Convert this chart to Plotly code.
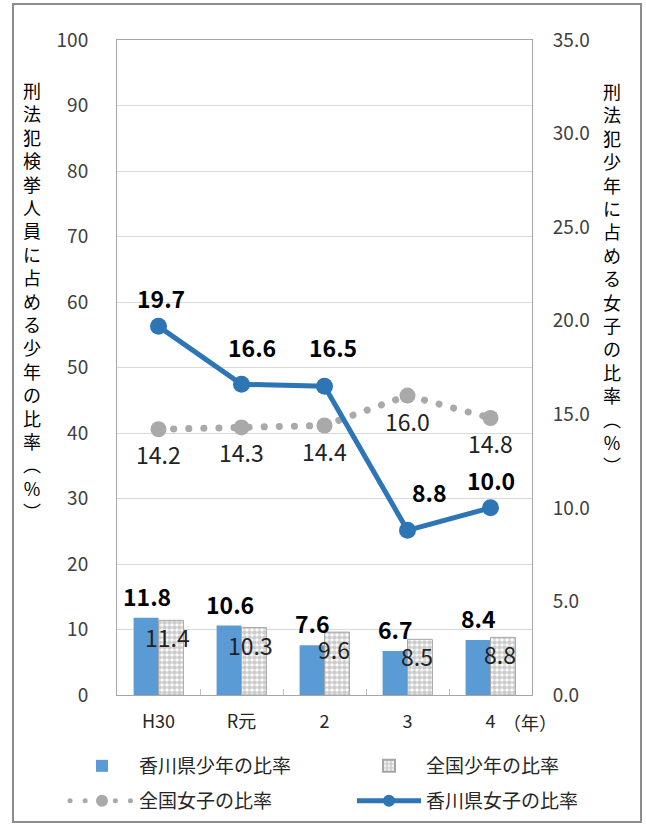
import plotly.graph_objects as go

# ---- data ----
categories = ["H30", "R元", "2", "3", "4"]
kagawa_juvenile = [11.8, 10.6, 7.6, 6.7, 8.4]      # 香川県少年の比率 (left axis)
national_juvenile = [11.4, 10.3, 9.6, 8.5, 8.8]    # 全国少年の比率 (left axis)
national_female = [14.2, 14.3, 14.4, 16.0, 14.8]   # 全国女子の比率 (right axis)
kagawa_female = [19.7, 16.6, 16.5, 8.8, 10.0]      # 香川県女子の比率 (right axis)
left_ticks = [0, 10, 20, 30, 40, 50, 60, 70, 80, 90, 100]
right_ticks = [0, 5, 10, 15, 20, 25, 30, 35]

names = ["香川県少年の比率", "全国少年の比率", "全国女子の比率", "香川県女子の比率"]
left_title = "刑法犯検挙人員に占める少年の比率"
right_title = "刑法犯少年に占める女子の比率"

# label offsets (px) for the 香川県女子 labels (style only)
kf_dx = [2, 10, 8, 22, 0]
kf_dy = [28, 37, 39, 38, 28]

FONT = "Noto Sans CJK JP"
BLUE_BAR = "#5B9BD5"
BLUE_LINE = "#2E75B6"
GRAY = "#A9A9A9"

FW, FH = 646, 825
L, R, T, B = 117, 532, 40, 695
W = R - L
H = B - T


def px(x):
    return (x - L) / W


def py(y):
    return (B - y) / H


fig = go.Figure()
fig.add_bar(x=categories, y=kagawa_juvenile, name=names[0], showlegend=True,
            marker=dict(color=BLUE_BAR, line=dict(width=0)), legend="legend")
fig.add_bar(x=categories, y=national_juvenile, name=names[1], showlegend=True,
            marker=dict(color="white", line=dict(color="#A6A6A6", width=1),
                        pattern=dict(shape=".", fgcolor="#9A9A9A", bgcolor="white",
                                     size=5, solidity=0.7)),
            legend="legend2")
fig.add_scatter(x=categories, y=national_female, yaxis="y2", name=names[2],
                mode="lines+markers", showlegend=True,
                line=dict(color=GRAY, width=7, dash="0.1px,15px"),
                marker=dict(size=16, color=GRAY), legend="legend3")
fig.add_scatter(x=categories, y=kagawa_female, yaxis="y2", name=names[3],
                mode="lines+markers", showlegend=True,
                line=dict(color=BLUE_LINE, width=5),
                marker=dict(size=17, color=BLUE_LINE), legend="legend4")

ann = []
for i, c in enumerate(categories):
    ann.append(dict(x=c, y=kagawa_juvenile[i], xref="x", yref="y",
                    text=f"<b>{kagawa_juvenile[i]:.1f}</b>", showarrow=False,
                    xshift=-12, yshift=22,
                    font=dict(family=FONT, size=23, color="black")))
    ann.append(dict(x=c, y=national_juvenile[i], xref="x", yref="y",
                    text=f"{national_juvenile[i]:.1f}", showarrow=False,
                    xshift=9, yshift=-17,
                    font=dict(family=FONT, size=23, color="#222222")))
    ann.append(dict(x=c, y=national_female[i], xref="x", yref="y2",
                    text=f"{national_female[i]:.1f}", showarrow=False,
                    xshift=0, yshift=-25,
                    font=dict(family=FONT, size=23, color="#222222")))
    ann.append(dict(x=c, y=kagawa_female[i], xref="x", yref="y2",
                    text=f"<b>{kagawa_female[i]:.1f}</b>", showarrow=False,
                    xshift=kf_dx[i], yshift=kf_dy[i],
                    font=dict(family=FONT, size=23, color="black")))

# vertical axis titles (stacked characters)
ann.append(dict(x=px(32), y=py(300), xref="paper", yref="paper", showarrow=False,
                xanchor="center", yanchor="middle",
                text="<br>".join(list(left_title) + ["︵", "%", "︶"]),
                font=dict(family=FONT, size=18, color="black")))
ann.append(dict(x=px(612), y=py(278), xref="paper", yref="paper", showarrow=False,
                xanchor="center", yanchor="middle",
                text="<br>".join(list(right_title) + ["︵", "%", "︶"]),
                font=dict(family=FONT, size=18, color="black")))
ann.append(dict(x=px(530), y=py(722), xref="paper", yref="paper", showarrow=False,
                xanchor="center", yanchor="middle",
                text="（年）", font=dict(family=FONT, size=18, color="#262626")))


def leg(x, y):
    return dict(orientation="h", x=px(x), y=py(y), xanchor="left", yanchor="middle",
                itemwidth=64, itemsizing="constant", bgcolor="rgba(0,0,0,0)",
                visible=True,
                font=dict(family=FONT, size=19, color="#262626"))


fig.update_layout(
    width=FW, height=FH,
    showlegend=True,
    margin=dict(l=L, r=FW - R, t=T, b=FH - B, autoexpand=False),
    paper_bgcolor="white", plot_bgcolor="white",
    barmode="group", bargap=0.4, bargroupgap=0,
    font=dict(family=FONT, color="#262626"),
    xaxis=dict(type="category", tickson="boundaries", ticks="inside", ticklen=6,
               tickcolor="#BFBFBF", showline=True, linecolor="#A6A6A6", mirror=True,
               tickfont=dict(size=18, color="#262626"), ticklabelstandoff=10,
               showgrid=False, automargin=False),
    yaxis=dict(range=[0, 100], tickvals=left_ticks, showgrid=True, gridcolor="#D9D9D9",
               gridwidth=1, showline=True, linecolor="#A6A6A6", zeroline=False,
               ticks="", tickfont=dict(size=19, color="#404040"), ticklabelstandoff=24,
               automargin=False),
    yaxis2=dict(range=[0, 35], tickvals=right_ticks, tickformat=".1f", overlaying="y",
                side="right", showgrid=False, showline=True, linecolor="#A6A6A6",
                zeroline=False, ticks="", tickfont=dict(size=19, color="#404040"),
                ticklabelstandoff=16, automargin=False),
    legend=leg(65, 766),
    legend2=leg(352, 766),
    legend3=leg(65, 801),
    legend4=leg(352, 801),
    annotations=ann,
    shapes=[dict(type="rect", xref="paper", yref="paper",
                 x0=px(13), x1=px(641), y0=py(822), y1=py(4),
                 line=dict(color="#8C8C8C", width=2), fillcolor="rgba(0,0,0,0)",
                 layer="below")],
)

post = """
(function(){
  document.body.style.margin = '0';
  document.body.style.padding = '0';
  function fix(){
    document.querySelectorAll('.js-line, .legendlines path').forEach(function(e){
      var d = e.style.strokeDasharray || '';
      if (d.indexOf('0.1') === 0) { e.style.strokeLinecap = 'round'; }
    });
  }
  fix();
  var gd = document.getElementsByClassName('plotly-graph-div')[0];
  if (gd && gd.on) { gd.on('plotly_afterplot', fix); }
})();
"""

fig.write_html("out.html", post_script=post, config={"displayModeBar": False})
